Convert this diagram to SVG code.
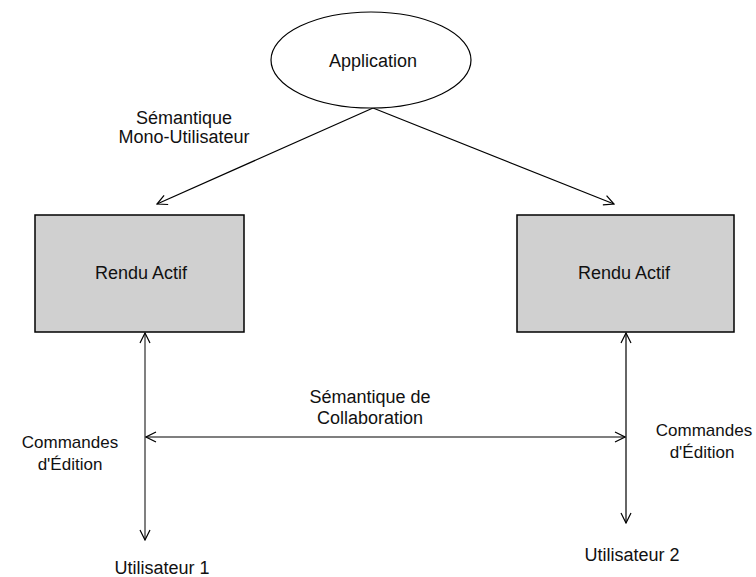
<svg xmlns="http://www.w3.org/2000/svg" width="756" height="577" viewBox="0 0 756 577">
<style>
text{font-family:"Liberation Sans",Arial,sans-serif;font-size:18px;fill:#111;text-anchor:middle}
.sm{font-size:17px}
.box{fill:#d0d0d0;stroke:#000;stroke-width:1.5}
.ln{stroke:#000;stroke-width:1.2;fill:none}
</style>
<defs>
<marker id="ah" viewBox="0 0 12 12" refX="11" refY="6" markerWidth="12" markerHeight="12" markerUnits="userSpaceOnUse" orient="auto-start-reverse">
<path d="M1,1 L11,6 L1,11" fill="none" stroke="#000" stroke-width="1.2"/>
</marker>
</defs>
<rect width="756" height="577" fill="#fff"/>
<g id="connectors">
<line class="ln" x1="373" y1="108" x2="157" y2="204" marker-end="url(#ah)"/>
<line class="ln" x1="373" y1="108" x2="614" y2="204" marker-end="url(#ah)"/>
<line x1="145" y1="333" x2="145" y2="540" stroke="#808080" stroke-width="2" marker-start="url(#ah)" marker-end="url(#ah)"/>
<line x1="626" y1="333" x2="626" y2="523" stroke="#333" stroke-width="1.5" marker-start="url(#ah)" marker-end="url(#ah)"/>
<line class="ln" x1="146" y1="437" x2="625" y2="437" marker-start="url(#ah)" marker-end="url(#ah)"/>
<text x="184" y="124">Sémantique</text>
<text x="184" y="143">Mono-Utilisateur</text>
<text x="370" y="403">Sémantique de</text>
<text x="370" y="424">Collaboration</text>
<text class="sm" x="70" y="448">Commandes</text>
<text class="sm" x="70" y="470">d'Édition</text>
<text class="sm" x="704" y="436">Commandes</text>
<text class="sm" x="702" y="458">d'Édition</text>
</g>
<g id="application">
<ellipse cx="371" cy="60" rx="100" ry="48" fill="#fff" stroke="#000" stroke-width="1.2"/>
<text x="373" y="67">Application</text>
</g>
<g id="rendu1">
<rect class="box" x="35" y="215" width="209" height="117"/>
<text x="141" y="279">Rendu Actif</text>
</g>
<g id="rendu2">
<rect class="box" x="517" y="215" width="217" height="117"/>
<text x="624" y="279">Rendu Actif</text>
</g>
<g id="user1">
<text x="162" y="574">Utilisateur 1</text>
</g>
<g id="user2">
<text x="632" y="561">Utilisateur 2</text>
</g>
</svg>
